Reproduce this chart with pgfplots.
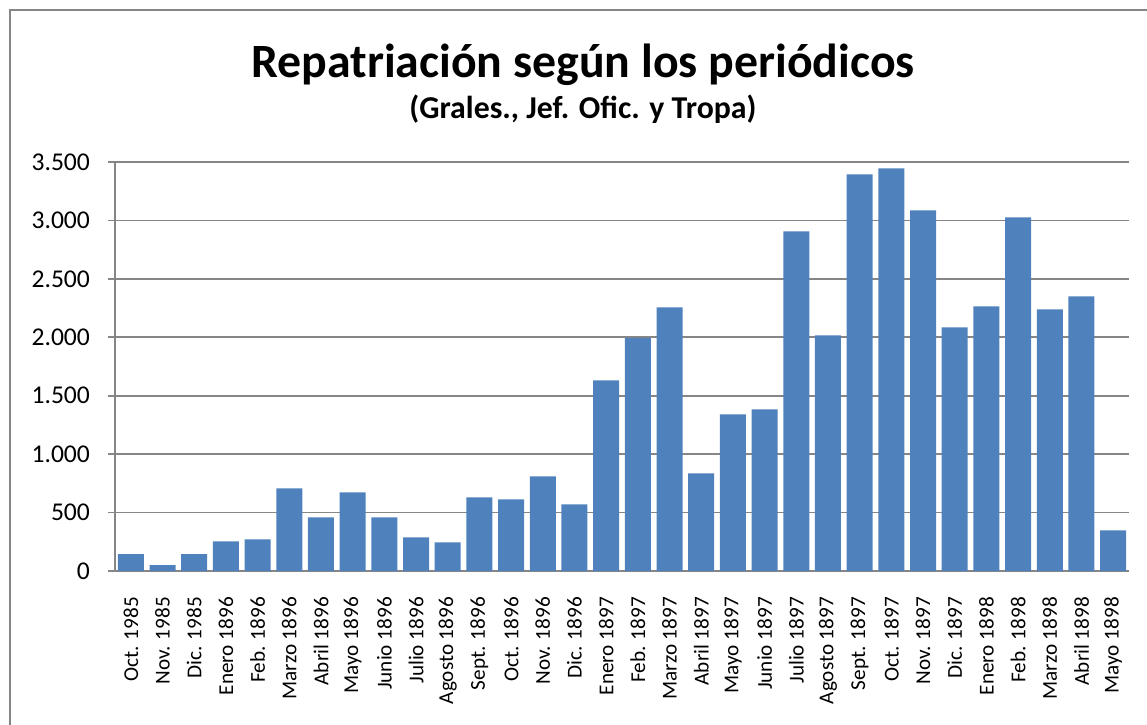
\documentclass[border=0pt]{standalone}
\usepackage{pgfplots}
\pgfplotsset{compat=1.18}
\usepackage{fontspec}
\setmainfont{Carlito}
\definecolor{barblue}{RGB}{79,129,189}
\definecolor{gridgray}{RGB}{134,134,134}
\begin{document}
\begin{tikzpicture}
\useasboundingbox (0,0) rectangle (573.5pt,362pt);
\draw[gridgray, line width=1pt] (5pt,-20pt) -- (5pt,357pt) -- (600pt,357pt);
\node[anchor=base, font=\bfseries\fontsize{23.9}{28}\selectfont] at (291.5pt,323pt) {Repatriación según los periódicos};
\node[anchor=base, font=\bfseries\fontsize{15.9}{18}\selectfont] at (291.5pt,302.5pt) {(Grales., Jef. Ofic. y Tropa)};
\begin{axis}[
  at={(57.5pt,76.5pt)}, anchor=south west,
  scale only axis, width=507pt, height=204.5pt,
  xmin=-0.5, xmax=31.5, ymin=0, ymax=3500,
  axis lines*=left,
  axis line style={gridgray, line width=0.9pt},
  ybar, bar width=13pt,
  ytick={0,500,...,3500},
  ymajorgrids, grid style={gridgray, line width=0.9pt},
  y tick label style={font=\fontsize{12.8}{15}\selectfont},
  /pgf/number format/.cd, 1000 sep={.}, assume math mode=true, /pgfplots/.cd,
  tick align=outside,
  major tick style={gridgray, line width=0.9pt},
  minor tick style={gridgray, line width=0.9pt},
  ytick style={gridgray},
  major tick length=3.5pt,
  xtick={0,...,31},
  x tick style={draw=none},
  minor xtick={-0.5,0.5,...,31.5},
  minor tick length=3pt,
  xticklabels={Oct. 1985,Nov. 1985,Dic. 1985,Enero 1896,Feb. 1896,Marzo 1896,Abril 1896,Mayo 1896,Junio 1896,Julio 1896,Agosto 1896,Sept. 1896,Oct. 1896,Nov. 1896,Dic. 1896,Enero 1897,Feb. 1897,Marzo 1897,Abril 1897,Mayo 1897,Junio 1897,Julio 1897,Agosto 1897,Sept. 1897,Oct. 1897,Nov. 1897,Dic. 1897,Enero 1898,Feb. 1898,Marzo 1898,Abril 1898,Mayo 1898},
  x tick label style={rotate=90, anchor=east, font=\fontsize{10.6}{12}\selectfont},
  xticklabel shift=6pt,
  yticklabel shift=5.5pt,
]
\addplot[fill=barblue, draw=none] coordinates {
(0,145) (1,50) (2,145) (3,254) (4,271) (5,707) (6,459) (7,673) (8,459) (9,288)
(10,245) (11,630) (12,613) (13,810) (14,570) (15,1631) (16,1994) (17,2256) (18,836) (19,1341)
(20,1383) (21,2906) (22,2017) (23,3394) (24,3445) (25,3086) (26,2085) (27,2265) (28,3026) (29,2239)
(30,2350) (31,348)
};
\end{axis}
\end{tikzpicture}
\end{document}
